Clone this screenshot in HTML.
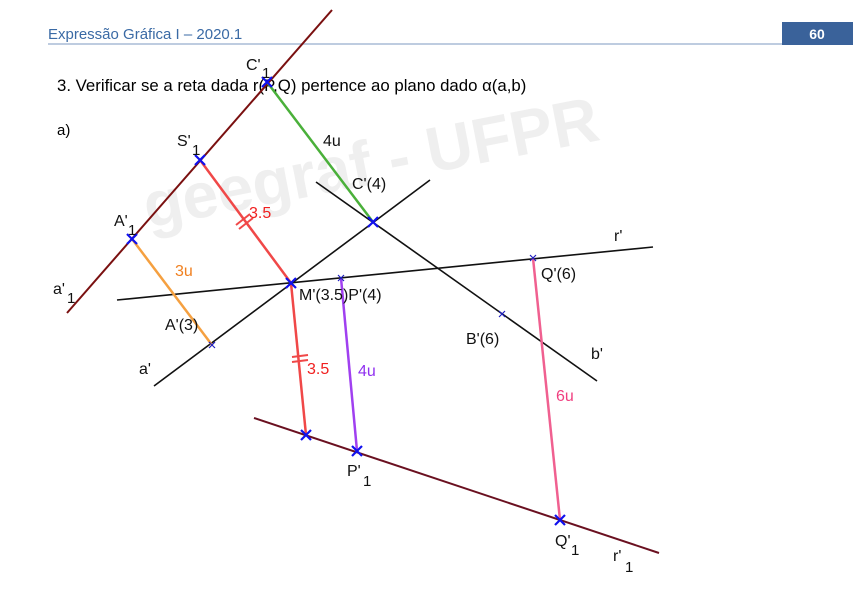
<!DOCTYPE html>
<html><head><meta charset="utf-8"><style>
html,body{margin:0;padding:0;background:#fff;}
svg{display:block;}
</style></head><body>
<svg width="860" height="612" xmlns="http://www.w3.org/2000/svg" font-family="Liberation Sans, sans-serif">
<rect width="860" height="612" fill="#fff"/>
<!-- header -->
<text x="48" y="39" font-size="15" fill="#3a6aa5">Expressão Gráfica I – 2020.1</text>
<line x1="48" y1="44" x2="782" y2="44" stroke="#a8bcd6" stroke-width="1.5"/>
<rect x="782" y="22" width="71" height="23" fill="#3a629a"/>
<text x="817" y="39" font-size="14" font-weight="bold" fill="#fff" text-anchor="middle">60</text>
<!-- watermark -->
<text x="148" y="228" font-size="64" font-weight="bold" fill="#efefef" transform="rotate(-11 148 228)">geegraf - UFPR</text>
<text x="57" y="91" font-size="16.8" fill="#000">3. Verificar se a reta dada r(P,Q) pertence ao plano dado α(a,b)</text>
<text x="57" y="135" font-size="15" fill="#000">a)</text>
<!-- lines -->
<line x1="332" y1="10" x2="67" y2="313" stroke="#7a1010" stroke-width="2"/>
<line x1="254" y1="418" x2="659" y2="553" stroke="#6a1020" stroke-width="2"/>
<line x1="154" y1="386" x2="430" y2="180" stroke="#111" stroke-width="1.6"/>
<line x1="316" y1="182" x2="597" y2="381" stroke="#111" stroke-width="1.6"/>
<line x1="117" y1="300" x2="653" y2="247" stroke="#111" stroke-width="1.6"/>
<line x1="267" y1="82" x2="373" y2="222" stroke="#4ab03a" stroke-width="2.5"/>
<line x1="200" y1="160" x2="291" y2="283" stroke="#f04848" stroke-width="2.5"/>
<line x1="291" y1="283" x2="306" y2="435" stroke="#f04848" stroke-width="2.5"/>
<line x1="132" y1="239" x2="212" y2="345" stroke="#f5a040" stroke-width="2.5"/>
<line x1="341" y1="278" x2="357" y2="451" stroke="#a040f0" stroke-width="2.5"/>
<line x1="533" y1="258" x2="560" y2="520" stroke="#f06090" stroke-width="2.5"/>
<!-- tick marks on red -->
<g stroke="#f04848" stroke-width="2">
<line x1="236" y1="225" x2="250" y2="214"/><line x1="239" y1="229" x2="253" y2="218"/>
<line x1="292" y1="357" x2="308" y2="355"/><line x1="292" y1="362" x2="308" y2="360"/>
</g>
<!-- blue X markers -->
<g stroke="#1010ee" stroke-width="2.2">
<path d="M262 77l10 10M272 77l-10 10"/>
<path d="M195 155l10 10M205 155l-10 10"/>
<path d="M127 234l10 10M137 234l-10 10"/>
<path d="M368 217l10 10M378 217l-10 10"/>
<path d="M286 278l10 10M296 278l-10 10"/>
<path d="M301 430l10 10M311 430l-10 10"/>
<path d="M352 446l10 10M362 446l-10 10"/>
<path d="M555 515l10 10M565 515l-10 10"/>
</g>
<g stroke="#2020c0" stroke-width="1.2">
<path d="M338 275l6 6M344 275l-6 6"/>
<path d="M530 255l6 6M536 255l-6 6"/>
<path d="M499 311l6 6M505 311l-6 6"/>
<path d="M209 342l6 6M215 342l-6 6"/>
</g>
<!-- labels -->
<g font-size="16" fill="#111">
<text x="246" y="70">C'</text><text x="262" y="78" font-size="15">1</text>
<text x="177" y="146">S'</text><text x="192" y="155" font-size="15">1</text>
<text x="114" y="226">A'</text><text x="128" y="235" font-size="15">1</text>
<text x="53" y="294">a'</text><text x="67" y="303" font-size="15">1</text>
<text x="352" y="189">C'(4)</text>
<text x="299" y="300">M'(3.5)P'(4)</text>
<text x="165" y="330">A'(3)</text>
<text x="139" y="374">a'</text>
<text x="466" y="344">B'(6)</text>
<text x="591" y="359">b'</text>
<text x="614" y="241">r'</text>
<text x="541" y="279">Q'(6)</text>
<text x="347" y="476">P'</text><text x="363" y="486" font-size="15">1</text>
<text x="555" y="546">Q'</text><text x="571" y="555" font-size="15">1</text>
<text x="613" y="561">r'</text><text x="625" y="572" font-size="15">1</text>
</g>
<text x="323" y="146" font-size="16" fill="#111">4u</text>
<text x="249" y="218" font-size="16" fill="#f02020">3.5</text>
<text x="175" y="276" font-size="16" fill="#f08020">3u</text>
<text x="307" y="374" font-size="16" fill="#f02020">3.5</text>
<text x="358" y="376" font-size="16" fill="#9030f0">4u</text>
<text x="556" y="401" font-size="16" fill="#f04080">6u</text>
</svg>
</body></html>
